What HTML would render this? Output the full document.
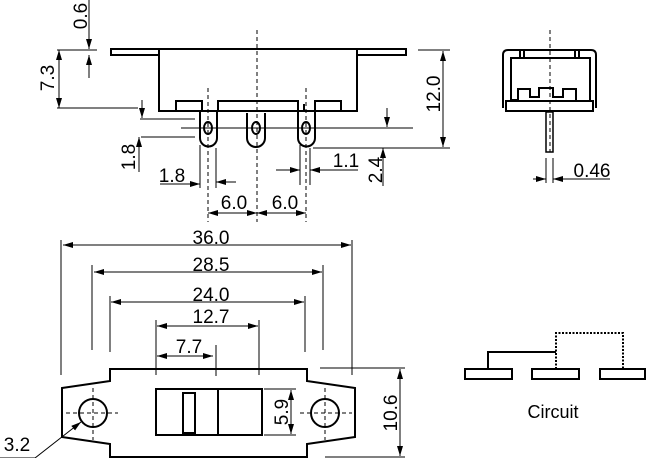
<!DOCTYPE html>
<html><head><meta charset="utf-8"><style>
html,body{margin:0;padding:0;background:#fff;}
svg{display:block;}
text{font-family:"Liberation Sans",Arial,sans-serif;font-size:19px;fill:#000;}
</style></head><body>
<svg width="646" height="458" viewBox="0 0 646 458" xmlns="http://www.w3.org/2000/svg">
<defs>
<marker id="a" viewBox="0 0 10 6" refX="10" refY="3" markerWidth="10" markerHeight="6" markerUnits="userSpaceOnUse" orient="auto-start-reverse"><path d="M0,0 L10,3 L0,6 z" fill="#000"/></marker>
</defs>
<g fill="none" stroke="#000">
<g stroke-width="2">
<rect x="111" y="49" width="48" height="6"/>
<rect x="357" y="49" width="49" height="6"/>
<path d="M159,49 H357 V111 H159 Z"/>
<rect x="176" y="101" width="26" height="10"/>
<rect x="218" y="101" width="80" height="10"/>
<rect x="315" y="101" width="26" height="10"/>
<path d="M200,111 V138 A8.5,8.5 0 0 0 217,138 V111"/>
<path d="M247,113 V138 A9,9 0 0 0 265,138 V113"/>
<path d="M298,111 V138 A8.5,8.5 0 0 0 315,138 V111"/>
<ellipse cx="208" cy="128" rx="4" ry="6"/>
<ellipse cx="256" cy="128" rx="4" ry="6"/>
<ellipse cx="306" cy="128" rx="4" ry="6"/>
<line x1="304" y1="104" x2="304" y2="111"/>
</g>
<g stroke-width="1" stroke-dasharray="4,3">
<line x1="257" y1="30" x2="257" y2="222"/>
<line x1="208" y1="88" x2="208" y2="222"/>
<line x1="306" y1="88" x2="306" y2="222"/>
</g>
<g stroke-width="1">
<line x1="89" y1="0" x2="89" y2="49" marker-end="url(#a)"/>
<line x1="89" y1="78" x2="89" y2="55" marker-end="url(#a)"/>
<line x1="57" y1="50" x2="97" y2="50"/>
<line x1="59" y1="50" x2="59" y2="108" marker-start="url(#a)" marker-end="url(#a)"/>
<line x1="57" y1="108" x2="138" y2="108"/>
<line x1="142" y1="100" x2="142" y2="118" marker-end="url(#a)"/>
<line x1="140" y1="119" x2="195" y2="119"/>
<line x1="181" y1="128" x2="413" y2="128"/>
<line x1="141" y1="137" x2="195" y2="137"/>
<line x1="139" y1="172" x2="139" y2="137" marker-end="url(#a)"/>
<line x1="200" y1="145" x2="200" y2="188"/>
<line x1="216" y1="148" x2="216" y2="188"/>
<line x1="160" y1="184" x2="200" y2="184" marker-end="url(#a)"/>
<line x1="236" y1="182" x2="216" y2="182" marker-end="url(#a)"/>
<line x1="300" y1="145" x2="300" y2="185"/>
<line x1="310" y1="148" x2="310" y2="185"/>
<line x1="276" y1="170" x2="300" y2="170" marker-end="url(#a)"/>
<line x1="358" y1="170" x2="310" y2="170" marker-end="url(#a)"/>
<line x1="387" y1="108" x2="387" y2="127" marker-end="url(#a)"/>
<line x1="383" y1="186" x2="383" y2="148" marker-end="url(#a)"/>
<line x1="313" y1="148" x2="450" y2="148"/>
<line x1="443" y1="51" x2="443" y2="147" marker-start="url(#a)" marker-end="url(#a)"/>
<line x1="418" y1="50" x2="450" y2="50"/>
<line x1="208" y1="213" x2="257" y2="213" marker-start="url(#a)" marker-end="url(#a)"/>
<line x1="257" y1="213" x2="306" y2="213" marker-start="url(#a)" marker-end="url(#a)"/>
</g>
<g stroke-width="2">
<path d="M503,108 V55 Q503,50 508,50 H591 Q596,50 596,55 V108"/>
<rect x="511" y="58" width="79" height="43"/>
<path d="M511,100 H518 V89 H530 V97 H539 V88 H553 V97 H563 V89 H576 V100"/>
<rect x="506" y="101" width="87" height="10"/>
<rect x="546" y="112" width="7" height="40" stroke-width="1.5"/>
<line x1="520" y1="50" x2="520" y2="58"/>
<line x1="524" y1="50" x2="524" y2="58"/>
<line x1="575" y1="50" x2="575" y2="58"/>
<line x1="579" y1="50" x2="579" y2="58"/>
</g>
<line x1="550" y1="30" x2="550" y2="152" stroke-width="1" stroke-dasharray="4,3"/>
<g stroke-width="1">
<line x1="546" y1="158" x2="546" y2="183"/>
<line x1="553" y1="158" x2="553" y2="183"/>
<line x1="533" y1="179" x2="546" y2="179" marker-end="url(#a)"/>
<line x1="610" y1="179" x2="553" y2="179" marker-end="url(#a)"/>
</g>
<g stroke-width="2">
<path d="M62,388 L110,381 V369 H307 V381 L355,388 V437 L307,444 V457 H110 V444 L62,437 Z"/>
<circle cx="93" cy="413" r="14"/>
<circle cx="325" cy="413" r="14"/>
<rect x="156" y="389" width="106" height="46"/>
<line x1="218" y1="389" x2="218" y2="435"/>
<rect x="183" y="393" width="12" height="40"/>
</g>
<g stroke-width="1" stroke-dasharray="4,3">
<line x1="66" y1="413" x2="118" y2="413"/>
<line x1="93" y1="388" x2="93" y2="440"/>
<line x1="300" y1="413" x2="352" y2="413"/>
<line x1="325" y1="388" x2="325" y2="440"/>
</g>
<g stroke-width="1">
<line x1="61" y1="240" x2="61" y2="375"/>
<line x1="352" y1="240" x2="352" y2="375"/>
<line x1="63" y1="245" x2="351" y2="245" marker-start="url(#a)" marker-end="url(#a)"/>
<line x1="92" y1="265" x2="92" y2="350"/>
<line x1="323" y1="265" x2="323" y2="350"/>
<line x1="94" y1="272" x2="322" y2="272" marker-start="url(#a)" marker-end="url(#a)"/>
<line x1="110" y1="296" x2="110" y2="352"/>
<line x1="305" y1="296" x2="305" y2="352"/>
<line x1="111" y1="302" x2="304" y2="302" marker-start="url(#a)" marker-end="url(#a)"/>
<line x1="156" y1="320" x2="156" y2="375"/>
<line x1="259" y1="320" x2="259" y2="375"/>
<line x1="157" y1="326" x2="258" y2="326" marker-start="url(#a)" marker-end="url(#a)"/>
<line x1="216" y1="345" x2="216" y2="376"/>
<line x1="157" y1="356" x2="213" y2="356" marker-start="url(#a)" marker-end="url(#a)"/>
<line x1="264" y1="389" x2="296" y2="389"/>
<line x1="264" y1="435" x2="296" y2="435"/>
<line x1="291" y1="390" x2="291" y2="434" marker-start="url(#a)" marker-end="url(#a)"/>
<line x1="320" y1="368" x2="405" y2="368"/>
<line x1="325" y1="457" x2="405" y2="457"/>
<line x1="400" y1="369" x2="400" y2="456" marker-start="url(#a)" marker-end="url(#a)"/>
<polyline points="0,458 35,458 81,422" marker-end="url(#a)"/>
</g>
<g stroke-width="2">
<rect x="465" y="369" width="47" height="10"/>
<rect x="532" y="369" width="47" height="10"/>
<rect x="600" y="369" width="45" height="10"/>
<polyline points="488,369 488,352 556,352"/>
<polyline points="556,369 556,333 623,333 623,369" stroke-dasharray="2,1.5"/>
</g>
</g>
<text transform="translate(87,16) rotate(-90)" text-anchor="middle">0.6</text>
<text transform="translate(54,78) rotate(-90)" text-anchor="middle">7.3</text>
<text transform="translate(135,157) rotate(-90)" text-anchor="middle">1.8</text>
<text x="172" y="182" text-anchor="middle">1.8</text>
<text x="346" y="167" text-anchor="middle">1.1</text>
<text transform="translate(382,170) rotate(-90)" text-anchor="middle">2.4</text>
<text transform="translate(440,94) rotate(-90)" text-anchor="middle">12.0</text>
<text x="234" y="209" text-anchor="middle">6.0</text>
<text x="285" y="209" text-anchor="middle">6.0</text>
<text x="592" y="177" text-anchor="middle">0.46</text>
<text x="211" y="244" text-anchor="middle">36.0</text>
<text x="211" y="271" text-anchor="middle">28.5</text>
<text x="211" y="301" text-anchor="middle">24.0</text>
<text x="211" y="323" text-anchor="middle">12.7</text>
<text x="189" y="353" text-anchor="middle">7.7</text>
<text transform="translate(288,412) rotate(-90)" text-anchor="middle">5.9</text>
<text transform="translate(397,413) rotate(-90)" text-anchor="middle">10.6</text>
<text x="17" y="451" text-anchor="middle">3.2</text>
<text x="553" y="418" text-anchor="middle" style="font-size:18px">Circuit</text>
</svg>
</body></html>
